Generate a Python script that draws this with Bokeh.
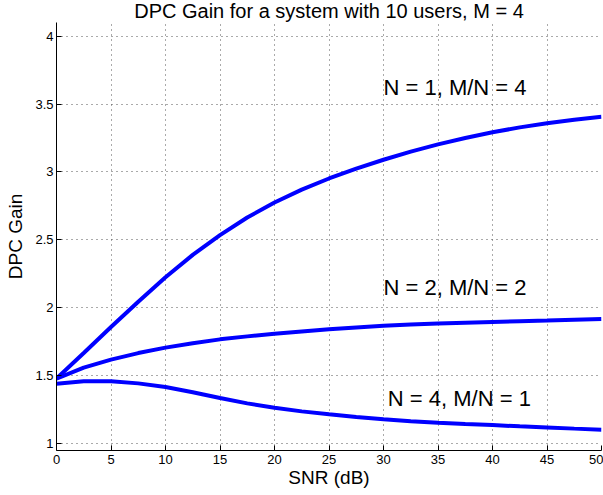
from bokeh.plotting import figure
from bokeh.models import Range1d, FixedTicker, ColumnDataSource
from bokeh.core.properties import value
from bokeh.embed import file_html
from bokeh.resources import INLINE

# SNR grid (dB) and DPC gain for the three antenna configurations
snr_db = [0, 2.5, 5, 7.5, 10, 12.5, 15, 17.5, 20, 22.5, 25,
          27.5, 30, 32.5, 35, 37.5, 40, 42.5, 45, 47.5, 50]
gain_n1 = [1.479, 1.668, 1.859, 2.045, 2.225, 2.39, 2.535, 2.665, 2.775, 2.87, 2.952,
           3.025, 3.09, 3.15, 3.203, 3.25, 3.292, 3.328, 3.359, 3.385, 3.406]
gain_n2 = [1.479, 1.56, 1.619, 1.667, 1.707, 1.74, 1.768, 1.79, 1.809, 1.826, 1.842,
           1.856, 1.868, 1.877, 1.885, 1.891, 1.896, 1.901, 1.906, 1.912, 1.918]
gain_n4 = [1.442, 1.459, 1.459, 1.444, 1.417, 1.379, 1.336, 1.297, 1.264, 1.238, 1.217,
           1.197, 1.18, 1.166, 1.155, 1.145, 1.137, 1.128, 1.12, 1.111, 1.103]

# Curve annotations
label_text = ["N = 1, M/N = 4", "N = 2, M/N = 2", "N = 4, M/N = 1"]
label_x = [30, 30, 30.4]
label_y = [3.62, 2.15, 1.335]

# Axis ticks
x_ticks = [0, 5, 10, 15, 20, 25, 30, 35, 40, 45, 50]
y_ticks = [1, 1.5, 2, 2.5, 3, 3.5, 4]
y_tick_labels = ["1", "1.5", "2", "2.5", "3", "3.5", "4"]

FONT = "Liberation Sans"

p = figure(width=603, height=495, output_backend="svg", toolbar_location=None,
           x_range=Range1d(0, 50), y_range=Range1d(0.95, 4.1),
           min_border_left=56, min_border_right=2, min_border_top=22,
           min_border_bottom=45)

p.title.text = "DPC Gain for a system with 10 users, M = 4"
p.title.text_font = FONT
p.title.text_font_size = "20px"
p.title.text_font_style = "normal"
p.title.text_color = "black"
p.title.align = "center"
p.title.vertical_align = "top"
p.title.standoff = -3
p.title.offset = -2

p.outline_line_color = None
p.background_fill_color = "white"
p.border_fill_color = "white"

for ax in (p.xaxis, p.yaxis):
    ax.major_tick_in = 5
    ax.major_tick_out = 0
    ax.minor_tick_line_color = None
    ax.axis_line_color = "black"
    ax.major_tick_line_color = "black"
    ax.major_label_text_font = FONT
    ax.major_label_text_font_size = "13px"
    ax.major_label_text_color = "black"
    ax.axis_label_text_font = FONT
    ax.axis_label_text_font_size = "19px"
    ax.axis_label_text_font_style = "normal"
    ax.axis_label_text_color = "black"

p.xaxis.ticker = FixedTicker(ticks=x_ticks)
p.yaxis.ticker = FixedTicker(ticks=y_ticks)
p.yaxis.major_label_overrides = dict(zip(y_ticks, y_tick_labels))
p.xaxis.axis_label = "SNR (dB)"
p.yaxis.axis_label = "DPC Gain"
p.xaxis.major_label_standoff = 4
p.yaxis.major_label_standoff = 3
p.xaxis.axis_label_standoff = 0
p.yaxis.axis_label_standoff = 6

for g in (p.xgrid, p.ygrid):
    g.grid_line_color = "#555555"
    g.grid_line_dash = "1 4"
    g.grid_line_width = 1
p.xgrid.ticker = FixedTicker(ticks=x_ticks)
p.ygrid.ticker = FixedTicker(ticks=y_ticks)

for series in (gain_n1, gain_n2, gain_n4):
    p.line(snr_db, series, line_color="#0000ff", line_width=4)

labels = ColumnDataSource(dict(x=label_x, y=label_y, text=label_text))
p.text(x="x", y="y", text="text", source=labels, text_font=value(FONT),
       text_font_size="22px", text_color="black", text_baseline="middle",
       text_align="left")

open("out.html", "w").write(file_html(p, INLINE))
